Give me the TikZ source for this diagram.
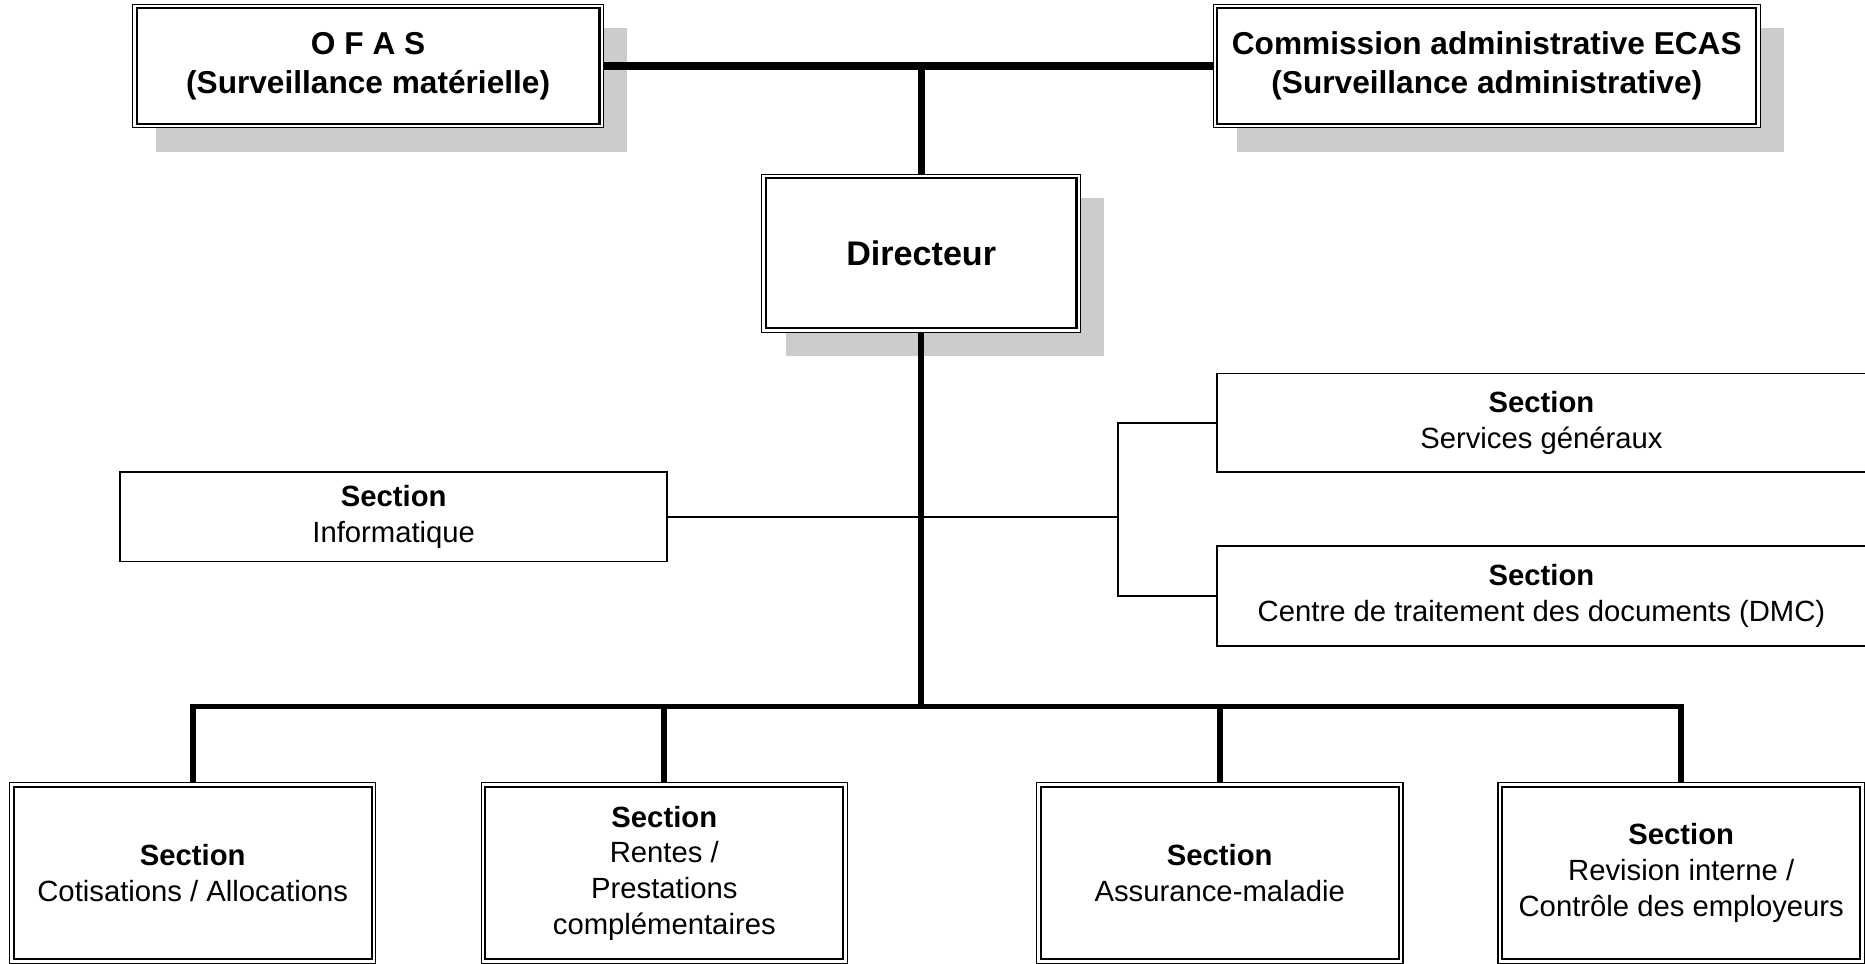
\documentclass[tikz,border=0pt]{standalone}
\usepackage{fontspec}
\setmainfont{Liberation Sans}
\usetikzlibrary{shadows}
\definecolor{shadowgray}{RGB}{204,204,204}
\tikzset{
  dbox/.style={draw, line width=0.5pt, fill=white, inner sep=0pt, align=center},
  shadowbox/.style={dbox,
    drop shadow={shadow xshift=10pt, shadow yshift=-10pt, fill=shadowgray, opacity=1}},
  sbox/.style={draw, line width=0.7pt, fill=white, inner sep=0pt, align=center},
  bigtext/.style={font=\fontsize{13.3}{16.5}\selectfont\bfseries},
  dirtext/.style={font=\fontsize{14.35}{17}\selectfont\bfseries},
  sectext/.style={font=\fontsize{12.3}{15}\selectfont},
  toplink/.style={line width=3pt},
  buslink/.style={line width=2.4pt, line join=miter},
  sidelink/.style={line width=0.9pt},
  innerline/.style={line width=0.9pt}
}
\begin{document}
\begin{tikzpicture}[x=0.5pt,y=-0.5pt]
\useasboundingbox (0,0) rectangle (1568,810);

% top level
\node[shadowbox, bigtext, minimum width=198pt, minimum height=52pt] (ofas) at (309.5,55.5)
  {O F A S\\(Surveillance matérielle)};
\node[shadowbox, bigtext, minimum width=230pt, minimum height=52pt] (com) at (1250,55.5)
  {Commission administrative ECAS\\(Surveillance administrative)};
\node[shadowbox, dirtext, minimum width=134pt, minimum height=66.5pt] (dir) at (774.5,213)
  {Directeur};

% side sections
\node[sbox, sectext, minimum width=230pt, minimum height=37.5pt] (inf) at (331,434.5)
  {\textbf{Section}\\Informatique};
\node[sbox, sectext, minimum width=273pt, minimum height=41.5pt] (svc) at (1296,355.5)
  {\textbf{Section}\\Services généraux};
\node[sbox, sectext, minimum width=273pt, minimum height=42pt] (dmc) at (1296,501)
  {\textbf{Section}\\Centre de traitement des documents (DMC)};

% bottom sections
\node[dbox, sectext, minimum width=154pt, minimum height=76pt] (cot) at (162,734)
  {\textbf{Section}\\Cotisations / Allocations};
\node[dbox, sectext, minimum width=154pt, minimum height=76pt] (ren) at (558.5,734)
  {\textbf{Section}\\Rentes /\\Prestations\\complémentaires};
\node[dbox, sectext, minimum width=154pt, minimum height=76pt] (ass) at (1025.5,734)
  {\textbf{Section}\\Assurance-maladie};
\node[dbox, sectext, minimum width=154pt, minimum height=76pt] (rev) at (1413.5,734)
  {\textbf{Section}\\Revision interne /\\Contrôle des employeurs};

% inner lines of double frames
\foreach \n in {ofas,com,dir,cot,ren,ass,rev}
  \draw[innerline] ([shift={(2pt,-2pt)}]\n.north west) rectangle ([shift={(-2pt,2pt)}]\n.south east);

% connectors
\coordinate (busy) at (774.5,594);
\coordinate (j) at (940,434.5);
\draw[toplink] (ofas.east) -- (com.west);
\draw[toplink] (dir.north) -- (dir.north |- ofas.east);
\draw[buslink] (dir.south) -- (busy);
\draw[buslink] (cot.north) |- (busy) -| (rev.north);
\draw[buslink] (ren.north) -- (ren.north |- busy);
\draw[buslink] (ass.north) -- (ass.north |- busy);
\draw[sidelink] (inf.east) -- (j);
\draw[sidelink, line join=miter] (svc.west) -| (j) |- (dmc.west);
\end{tikzpicture}
\end{document}
